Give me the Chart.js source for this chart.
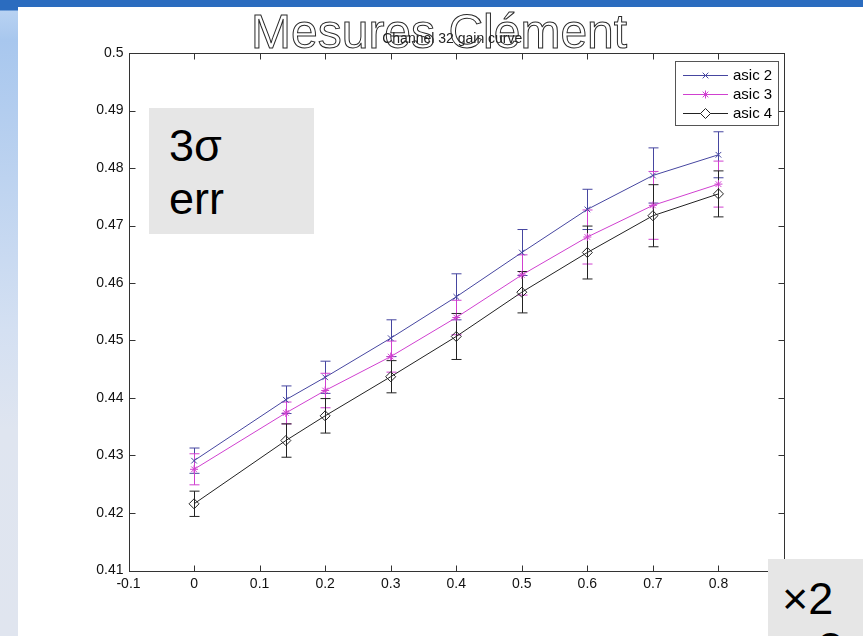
<!DOCTYPE html>
<html>
<head>
<meta charset="utf-8">
<script src="https://cdn.jsdelivr.net/npm/chart.js@4/dist/chart.umd.min.js"></script>
<style>
  body { margin: 0; width: 863px; height: 636px; overflow: hidden; background: #fff; position: relative; font-family: "Liberation Sans", Arial, sans-serif; }
  #topbar { position: absolute; left: 0; top: 0; width: 863px; height: 7px; background: #2b6cbf; }
  #leftbar { position: absolute; left: 0; top: 0; width: 18px; height: 636px;
    background: linear-gradient(to bottom, #2b6cbf 0px, #2b6cbf 10px, #b8d2f2 11px, #a8c7ee 40px, #d4e0f2 330px, #dfe5f0 430px, #e0e5ef 636px); }
  #wrap { position: absolute; left: 0; top: 0; width: 863px; height: 636px; }
  #bigtitle { position: absolute; left: 251px; top: 8px; font-size: 48px; line-height: 48px; white-space: nowrap;
    color: rgba(255,255,255,0); -webkit-text-stroke: 1px #2a2a2a; }
  .note { position: absolute; background: #e6e6e6; color: #000; font-size: 45px; line-height: 53px; }
  #note1 { left: 149px; top: 108px; width: 145px; height: 115px; padding: 11px 0 0 20px; }
  #note2 { left: 768px; top: 559px; width: 81px; height: 64px; padding: 13px 0 0 14px; overflow: hidden; }
</style>
</head>
<body>
<div id="topbar"></div>
<div id="leftbar"></div>
<div id="wrap"><canvas id="chart" width="863" height="636"></canvas></div>
<div id="bigtitle">Mesures Clément</div>
<div class="note" id="note1">3σ<br>err</div>
<div class="note" id="note2"><div>×2</div><div style="margin:-3px 0 0 36px">3</div></div>
<script>
const plotTitle = 'Channel 32 gain curve';
const seriesLabels = ['asic 2', 'asic 3', 'asic 4'];
const xValues = [0, 0.14, 0.2, 0.3, 0.4, 0.5, 0.6, 0.7, 0.8];

const asic2 = [0.4291, 0.4397, 0.4436, 0.4504, 0.4576, 0.4653, 0.4728, 0.4787, 0.4823];
const asic3 = [0.4276, 0.4374, 0.4413, 0.4472, 0.4540, 0.4614, 0.4680, 0.4735, 0.4772];
const asic4 = [0.4216, 0.4326, 0.4369, 0.4437, 0.4507, 0.4584, 0.4653, 0.4717, 0.4755];

// 3 sigma error (half height of each bar)
const asic2Err = [0.0022, 0.0024, 0.0028, 0.0032, 0.0040, 0.0040, 0.0035, 0.0048, 0.0040];
const asic3Err = [0.0027, 0.0019, 0.0030, 0.0027, 0.0030, 0.0035, 0.0047, 0.0059, 0.0040];
const asic4Err = [0.0022, 0.0029, 0.0030, 0.0028, 0.0040, 0.0036, 0.0046, 0.0054, 0.0040];

const xTicks = [-0.1, 0, 0.1, 0.2, 0.3, 0.4, 0.5, 0.6, 0.7, 0.8, 0.9];
const yTicks = [0.41, 0.42, 0.43, 0.44, 0.45, 0.46, 0.47, 0.48, 0.49, 0.5];

const colors = ['#4646a0', '#d040d0', '#222222'];
const markers = ['crossRot', 'star', 'rectRot'];
const radii = [4, 4, 5];

const allValues = [asic2, asic3, asic4];
const allErrs = [asic2Err, asic3Err, asic4Err];

Chart.defaults.font.family = '"Liberation Sans", Arial, sans-serif';
Chart.defaults.color = '#111';

function fmt(v) {
    return String(parseFloat(v.toFixed(2)));
}

const datasets = seriesLabels.map((label, i) => ({
    label: label,
    data: xValues.map((x, j) => ({x: x, y: allValues[i][j]})),
    borderColor: colors[i],
    backgroundColor: 'rgba(255,255,255,0)',
    borderWidth: 1,
    pointStyle: markers[i],
    pointRadius: radii[i],
    pointBorderColor: colors[i],
    pointBorderWidth: 1,
    tension: 0
}));

// error bars, drawn through the scales
const errorBars = {
    id: 'errorBars',
    beforeDatasetsDraw(chart) {
        const ctx = chart.ctx;
        const xs = chart.scales.x, ys = chart.scales.y;
        ctx.save();
        ctx.lineWidth = 1;
        allValues.forEach((vals, i) => {
            ctx.strokeStyle = colors[i];
            vals.forEach((v, j) => {
                const px = Math.round(xs.getPixelForValue(xValues[j])) + 0.5;
                const top = ys.getPixelForValue(v + allErrs[i][j]);
                const bot = ys.getPixelForValue(v - allErrs[i][j]);
                ctx.beginPath();
                ctx.moveTo(px, top); ctx.lineTo(px, bot);
                ctx.moveTo(px - 5, top); ctx.lineTo(px + 5, top);
                ctx.moveTo(px - 5, bot); ctx.lineTo(px + 5, bot);
                ctx.stroke();
            });
        });
        ctx.restore();
    }
};

// matlab style box, inward ticks, small title and legend
const matlabFrame = {
    id: 'matlabFrame',
    afterDraw(chart) {
        const ctx = chart.ctx;
        const a = chart.chartArea;
        const xs = chart.scales.x, ys = chart.scales.y;
        ctx.save();
        ctx.strokeStyle = '#333';
        ctx.lineWidth = 1;
        const L = Math.round(a.left) + 0.5, R = Math.round(a.right) + 0.5;
        const T = Math.round(a.top) + 0.5, B = Math.round(a.bottom) + 0.5;
        ctx.strokeRect(L, T, R - L, B - T);
        ctx.beginPath();
        xTicks.forEach(t => {
            const px = Math.round(xs.getPixelForValue(t)) + 0.5;
            ctx.moveTo(px, B); ctx.lineTo(px, B - 6);
            ctx.moveTo(px, T); ctx.lineTo(px, T + 6);
        });
        yTicks.forEach(t => {
            const py = Math.round(ys.getPixelForValue(t)) + 0.5;
            ctx.moveTo(L, py); ctx.lineTo(L + 6, py);
            ctx.moveTo(R, py); ctx.lineTo(R - 6, py);
        });
        ctx.stroke();

        ctx.fillStyle = '#222';
        ctx.font = '14px "Liberation Sans", Arial, sans-serif';
        ctx.textAlign = 'center';
        ctx.textBaseline = 'middle';
        ctx.fillText(plotTitle, (a.left + a.right) / 2 - 4, 39);

        // legend box
        const bx = a.right - 109, by = a.top + 8, bw = 103, bh = 64;
        ctx.fillStyle = '#fff';
        ctx.fillRect(bx, by, bw, bh);
        ctx.strokeStyle = '#555';
        ctx.strokeRect(Math.round(bx) + 0.5, Math.round(by) + 0.5, bw, bh);
        ctx.font = '15px "Liberation Sans", Arial, sans-serif';
        ctx.textAlign = 'left';
        seriesLabels.forEach((label, i) => {
            const ly = Math.round(by + 14 + i * 19.2) + 0.5;
            ctx.strokeStyle = colors[i];
            ctx.fillStyle = '#fff';
            ctx.lineWidth = 1;
            ctx.beginPath();
            ctx.moveTo(bx + 8, ly); ctx.lineTo(bx + 53, ly);
            ctx.stroke();
            Chart.helpers.drawPoint(ctx, {pointStyle: markers[i], radius: radii[i], borderWidth: 1, rotation: 0}, bx + 30.5, ly);
            ctx.fillStyle = '#000';
            ctx.fillText(label, bx + 58, ly);
        });
        ctx.restore();
    }
};

new Chart(document.getElementById('chart').getContext('2d'), {
    type: 'line',
    data: {datasets: datasets},
    options: {
        responsive: false,
        animation: false,
        layout: {padding: {top: 53, right: 79, bottom: 0, left: 0}},
        plugins: {legend: {display: false}, title: {display: false}, tooltip: {enabled: false}},
        scales: {
            x: {
                type: 'linear',
                min: -0.1, max: 0.9,
                afterBuildTicks: s => { s.ticks = xTicks.map(v => ({value: v})); },
                afterFit: s => { s.height = 65.5; },
                grid: {display: false, drawTicks: false},
                border: {display: false},
                ticks: {padding: 5, maxRotation: 0, autoSkip: false, color: '#111', font: {size: 14}, callback: v => fmt(v)}
            },
            y: {
                min: 0.41, max: 0.5,
                afterBuildTicks: s => { s.ticks = yTicks.map(v => ({value: v})); },
                afterFit: s => { s.width = 128.5; },
                grid: {display: false, drawTicks: false},
                border: {display: false},
                ticks: {padding: 5, autoSkip: false, color: '#111', font: {size: 14}, callback: v => fmt(v)}
            }
        }
    },
    plugins: [errorBars, matlabFrame]
});
</script>
</body>
</html>
